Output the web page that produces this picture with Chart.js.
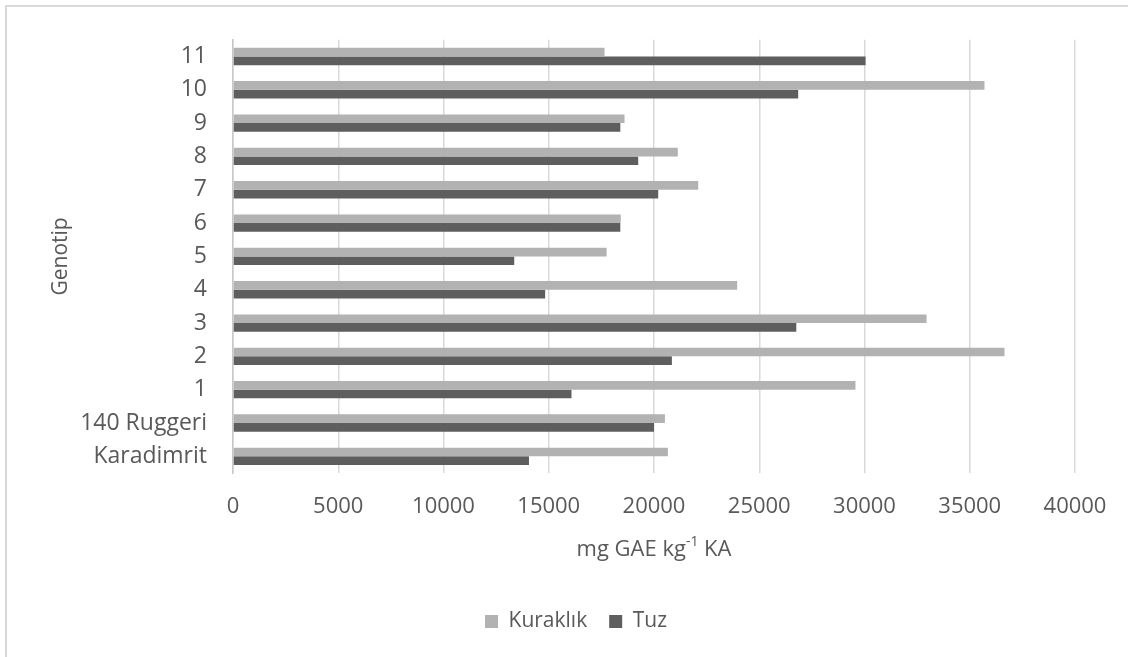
<!DOCTYPE html>
<html>
<head>
<meta charset="utf-8">
<script src="https://cdn.jsdelivr.net/npm/chart.js@4/dist/chart.umd.min.js"></script>
<style>
  html, body { margin: 0; padding: 0; background: #ffffff; }
  #wrap { width: 1128px; height: 657px; position: relative; }
</style>
</head>
<body>
<div id="wrap"><canvas id="chart"></canvas></div>
<script>
// Genotypes, listed from the top of the chart downwards
const genotypes = ['11', '10', '9', '8', '7', '6', '5', '4', '3', '2', '1', '140 Ruggeri', 'Karadimrit'];

// Total phenolics (mg GAE kg-1 KA) under drought and salt stress
const kuraklik = [17650, 35700, 18600, 21130, 22100, 18420, 17750, 23950, 32950, 36650, 29570, 20520, 20660];
const tuz      = [30050, 26850, 18400, 19250, 20200, 18400, 13360, 14830, 26760, 20850, 16080, 20000, 14060];

const seriesNames = ['Kuraklık', 'Tuz'];
const xTicks = { min: 0, max: 40000, step: 5000 };

const TEXT = '#595959';
const FONT = "'Open Sans', 'DejaVu Sans', sans-serif";

// Light frame around the chart
const framePlugin = {
  id: 'frame',
  beforeDraw(chart) {
    const ctx = chart.ctx;
    ctx.save();
    ctx.strokeStyle = '#d9d9d9';
    ctx.lineWidth = 2;
    ctx.strokeRect(6, 6, chart.width, chart.height);
    ctx.restore();
  }
};

// Centre the legend on the whole canvas rather than on the padded box
const legendCenterPlugin = {
  id: 'legendCenter',
  afterLayout(chart) {
    const lg = chart.legend;
    if (!lg) return;
    const shift = chart.width / 2 + 12 - (lg.left + lg.right) / 2;
    lg.left += shift;
    lg.right += shift;
  }
};

// X-axis title with a superscript exponent: "mg GAE kg-1 KA"
const xTitlePlugin = {
  id: 'xTitle',
  afterDraw(chart) {
    const ctx = chart.ctx;
    const area = chart.chartArea;
    const cx = (area.left + area.right) / 2;
    const y = area.bottom + 77;
    const parts = [
      { t: 'mg GAE kg', size: 22, dy: 0 },
      { t: '-1', size: 14, dy: -8 },
      { t: ' KA', size: 22, dy: 0 }
    ];
    ctx.save();
    ctx.fillStyle = TEXT;
    ctx.textBaseline = 'middle';
    let total = 0;
    parts.forEach(p => { ctx.font = p.size + 'px ' + FONT; p.w = ctx.measureText(p.t).width; total += p.w; });
    let x = cx - total / 2;
    ctx.textAlign = 'left';
    parts.forEach(p => {
      ctx.font = p.size + 'px ' + FONT;
      ctx.fillText(p.t, x, y + p.dy);
      x += p.w;
    });
    ctx.restore();
  }
};

new Chart(document.getElementById('chart'), {
  type: 'bar',
  data: {
    labels: genotypes,
    datasets: [
      { label: seriesNames[0], data: kuraklik, backgroundColor: '#b2b2b2' },
      { label: seriesNames[1], data: tuz, backgroundColor: '#5e5e5e' }
    ]
  },
  options: {
    indexAxis: 'y',
    responsive: true,
    maintainAspectRatio: false,
    animation: false,
    datasets: { bar: { categoryPercentage: 0.52, barPercentage: 1.0, borderWidth: 0 } },
    layout: { padding: { left: 44, right: 53, top: 35, bottom: 15 } },
    scales: {
      x: {
        min: xTicks.min,
        max: xTicks.max,
        ticks: {
          stepSize: xTicks.step, color: TEXT, font: { family: FONT, size: 22 }, padding: 21, maxRotation: 0,
          callback: v => String(v)
        },
        grid: { color: '#d9d9d9', lineWidth: 1.5, drawTicks: false },
        border: { display: false },
        afterFit(scale) { scale.height = 116; }
      },
      y: {
        ticks: { color: TEXT, font: { family: FONT, size: 23 }, padding: 26, autoSkip: false },
        grid: { display: false, drawTicks: false },
        border: { display: true, color: '#c8c8c8', width: 1.5 },
        title: { display: true, text: 'Genotip', color: TEXT, font: { family: FONT, size: 21 }, padding: 4 },
        afterFit(scale) { scale.width = 189; }
      }
    },
    plugins: {
      legend: {
        position: 'bottom',
        labels: { color: TEXT, font: { family: FONT, size: 21 }, boxWidth: 13, boxHeight: 13, padding: 22 }
      },
      tooltip: { enabled: false }
    }
  },
  plugins: [framePlugin, legendCenterPlugin, xTitlePlugin]
});
</script>
</body>
</html>
